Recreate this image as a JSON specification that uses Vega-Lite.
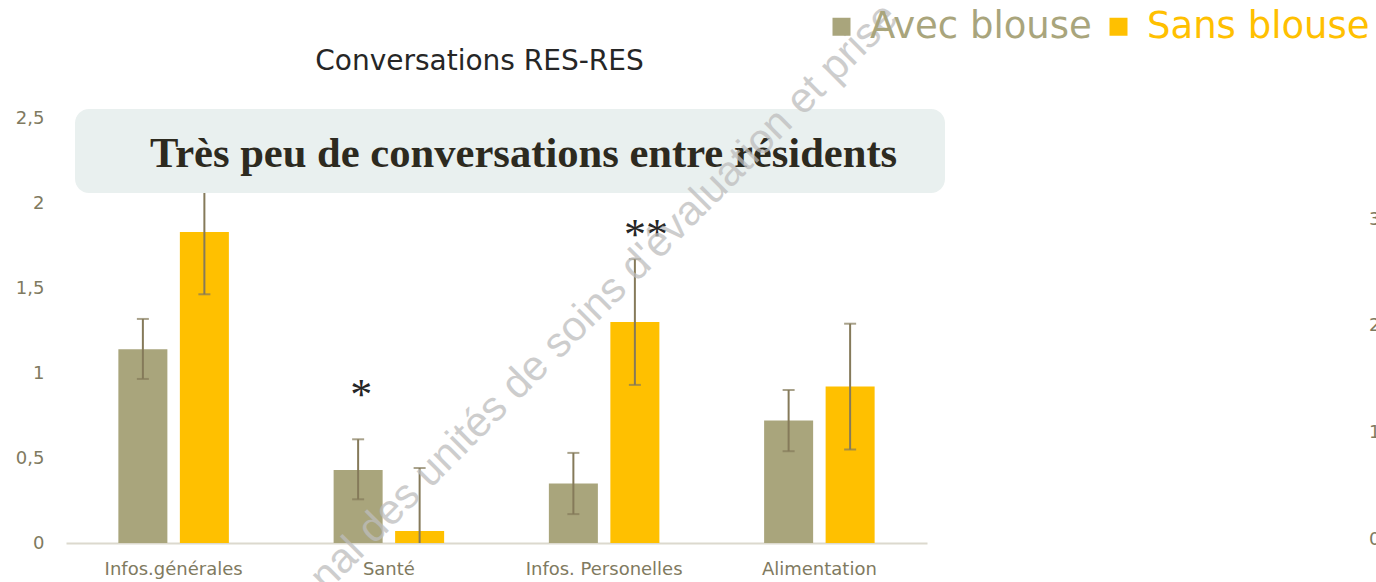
{
  "$schema": "https://vega.github.io/schema/vega-lite/v6.json",
  "width": 861,
  "height": 425,
  "autosize": "none",
  "padding": {"left": 66, "top": 118, "right": 449, "bottom": 39},
  "background": "white",
  "title": {
    "text": "Conversations RES-RES",
    "font": "DejaVu Sans",
    "fontSize": 28,
    "fontWeight": "normal",
    "color": "#262626",
    "anchor": "middle",
    "frame": "group",
    "dx": -17,
    "baseline": "alphabetic",
    "offset": -103
  },
  "datasets": {
    "bars": [
      {"cat": "Infos.générales", "group": "Avec blouse", "value": 1.14, "lo": 0.965, "hi": 1.318},
      {"cat": "Infos.générales", "group": "Sans blouse", "value": 1.829, "lo": 1.463, "hi": 2.195},
      {"cat": "Santé", "group": "Avec blouse", "value": 0.43, "lo": 0.257, "hi": 0.61},
      {"cat": "Santé", "group": "Sans blouse", "value": 0.07, "lo": -0.3, "hi": 0.441},
      {"cat": "Infos. Personelles", "group": "Avec blouse", "value": 0.35, "lo": 0.17, "hi": 0.53},
      {"cat": "Infos. Personelles", "group": "Sans blouse", "value": 1.3, "lo": 0.93, "hi": 1.67},
      {"cat": "Alimentation", "group": "Avec blouse", "value": 0.72, "lo": 0.54, "hi": 0.9},
      {"cat": "Alimentation", "group": "Sans blouse", "value": 0.92, "lo": 0.55, "hi": 1.29}
    ],
    "star1": [
      {"cat": "Santé", "group": "Avec blouse", "star": "*", "pos": 0.79}
    ],
    "star2": [
      {"cat": "Infos. Personelles", "group": "Sans blouse", "star": "**", "pos": 1.73}
    ],
    "box": [
      {"x1": 0.0105, "x2": 1.0209, "y1": 2.0588, "y2": 2.5529}
    ],
    "boxtext": [
      {"label": "Très peu de conversations entre résidents", "x": 0.5314, "y": 2.2118}
    ],
    "mark": [
      {"label": "nal des unités de soins d'évaluation et prise", "x": 0.6249, "y": 1.447}
    ],
    "right": [
      {"v": 0}, {"v": 3}
    ]
  },
  "layer": [
    {
      "layer": [
        {
          "data": {"name": "bars"},
          "mark": {"type": "bar"},
          "encoding": {
            "x": {
              "field": "cat", "type": "nominal", "sort": null,
              "scale": {"paddingInner": 0, "paddingOuter": 0},
              "axis": {
                "title": null, "labelAngle": 0, "ticks": false, "grid": false,
                "domainColor": "#DCD9CE", "domainWidth": 2,
                "labelFont": "DejaVu Sans", "labelFontSize": 18, "labelColor": "#7F7A60",
                "labelPadding": 17
              }
            },
            "xOffset": {
              "field": "group", "type": "nominal", "sort": null,
              "scale": {"paddingInner": 0.203, "paddingOuter": 0.8515}
            },
            "y": {
              "field": "value", "type": "quantitative",
              "scale": {"domain": [0, 2.5], "nice": false},
              "axis": {
                "title": null, "domain": false, "ticks": false, "grid": false,
                "values": [0, 0.5, 1, 1.5, 2, 2.5],
                "labelExpr": "replace(format(datum.value, '~g'), '.', ',')",
                "labelFont": "DejaVu Sans", "labelFontSize": 18, "labelColor": "#7F7A60",
                "labelPadding": 22
              }
            },
            "color": {
              "field": "group", "type": "nominal",
              "scale": {"domain": ["Avec blouse", "Sans blouse"], "range": ["#A9A57C", "#FFC000"]},
              "legend": {
                "orient": "none", "legendX": 757, "legendY": -110,
                "direction": "horizontal", "title": null,
                "symbolType": "square", "symbolSize": 324, "symbolStrokeWidth": 0,
                "labelFont": "DejaVu Sans", "labelFontSize": 37, "labelOffset": 10,
                "columnPadding": 8, "padding": 0, "labelLimit": 0,
                "encode": {
                  "labels": {"update": {"fill": {"signal": "datum.label === 'Sans blouse' ? '#FFC000' : '#A9A57C'"}}}
                }
              }
            }
          }
        },
        {
          "data": {"name": "bars"},
          "mark": {"type": "rule", "color": "#857A5A", "strokeWidth": 2, "clip": true},
          "encoding": {
            "x": {"field": "cat", "type": "nominal", "sort": null},
            "xOffset": {"field": "group", "type": "nominal", "sort": null},
            "y": {"field": "lo", "type": "quantitative"},
            "y2": {"field": "hi"}
          }
        },
        {
          "data": {"name": "bars"},
          "mark": {"type": "tick", "color": "#857A5A", "size": 12, "thickness": 2, "clip": true, "orient": "horizontal"},
          "encoding": {
            "x": {"field": "cat", "type": "nominal", "sort": null},
            "xOffset": {"field": "group", "type": "nominal", "sort": null},
            "y": {"field": "hi", "type": "quantitative"}
          }
        },
        {
          "data": {"name": "bars"},
          "mark": {"type": "tick", "color": "#857A5A", "size": 12, "thickness": 2, "clip": true, "orient": "horizontal"},
          "encoding": {
            "x": {"field": "cat", "type": "nominal", "sort": null},
            "xOffset": {"field": "group", "type": "nominal", "sort": null},
            "y": {"field": "lo", "type": "quantitative"}
          }
        },
        {
          "data": {"name": "star1"},
          "mark": {"type": "text", "font": "Liberation Serif", "fontSize": 44, "color": "#262626", "baseline": "alphabetic", "align": "center", "dx": 3},
          "encoding": {
            "x": {"field": "cat", "type": "nominal", "sort": null},
            "xOffset": {"field": "group", "type": "nominal", "sort": null},
            "y": {"field": "pos", "type": "quantitative"},
            "text": {"field": "star"}
          }
        },
        {
          "data": {"name": "star2"},
          "mark": {"type": "text", "font": "Liberation Serif", "fontSize": 44, "color": "#262626", "baseline": "alphabetic", "align": "center", "dx": 11},
          "encoding": {
            "x": {"field": "cat", "type": "nominal", "sort": null},
            "xOffset": {"field": "group", "type": "nominal", "sort": null},
            "y": {"field": "pos", "type": "quantitative"},
            "text": {"field": "star"}
          }
        }
      ]
    },
    {
      "layer": [
        {
          "data": {"name": "box"},
          "mark": {"type": "rect", "fill": "#E9F0EF", "cornerRadius": 14},
          "encoding": {
            "x": {"field": "x1", "type": "quantitative", "scale": {"domain": [0, 1], "nice": false, "zero": false}, "axis": null},
            "x2": {"field": "x2"},
            "y": {"field": "y1", "type": "quantitative", "scale": {"domain": [0, 2.5], "nice": false}, "axis": null},
            "y2": {"field": "y2"}
          }
        },
        {
          "data": {"name": "boxtext"},
          "mark": {"type": "text", "font": "Liberation Serif", "fontWeight": "bold", "fontSize": 42.6, "color": "#2D2A1F", "align": "center", "baseline": "alphabetic"},
          "encoding": {
            "x": {"field": "x", "type": "quantitative"},
            "y": {"field": "y", "type": "quantitative"},
            "text": {"field": "label"}
          }
        },
        {
          "data": {"name": "mark"},
          "mark": {"type": "text", "font": "Liberation Sans", "fontSize": 42, "color": "#BDBDBD", "opacity": 0.75, "angle": 315, "align": "center", "baseline": "middle"},
          "encoding": {
            "x": {"field": "x", "type": "quantitative"},
            "y": {"field": "y", "type": "quantitative"},
            "text": {"field": "label"}
          }
        }
      ]
    },
    {
      "data": {"name": "right"},
      "mark": {"type": "rule", "opacity": 0},
      "encoding": {
        "y": {
          "field": "v", "type": "quantitative",
          "scale": {"domain": [0, 3.987], "nice": false},
          "axis": {
            "orient": "right", "title": null, "domain": false, "ticks": false, "grid": false,
            "values": [0, 1, 2, 3], "offset": 453, "labelPadding": 0, "labelAlign": "right",
            "labelOffset": -4,
            "labelFont": "DejaVu Sans", "labelFontSize": 18, "labelColor": "#7F7A60"
          }
        }
      }
    }
  ],
  "resolve": {"scale": {"x": "independent", "y": "independent"}},
  "config": {"view": {"stroke": null}}
}
